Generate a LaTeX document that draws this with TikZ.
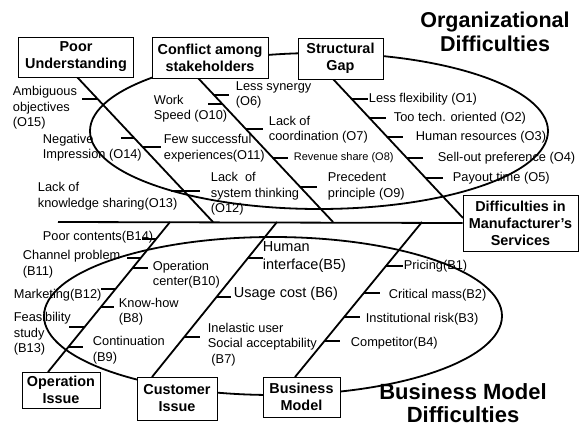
\documentclass[tikz,border=0pt]{standalone}
\usepackage{fontspec}
\setmainfont{Liberation Sans}
\usetikzlibrary{calc}

\begin{document}
\begin{tikzpicture}[x=1pt,y=-1pt,line width=1.8pt]
    \tikzstyle{cause}=[draw=black,line width=0.8pt,fill=white,align=center,inner sep=0pt,font=\bfseries\fontsize{14.4}{17}\selectfont]
    \tikzstyle{item}=[anchor=west,align=left,inner sep=0pt,font=\fontsize{12.8}{15.5}\selectfont]
    \tikzstyle{itembig}=[item,font=\fontsize{14.5}{18}\selectfont]
    \tikzstyle{itemsmall}=[item,font=\fontsize{11}{13}\selectfont]
    \tikzstyle{title}=[align=center,inner sep=0pt,font=\bfseries\fontsize{21.5}{24}\selectfont]
    \useasboundingbox (0,0) rectangle (579,428);

    % groups
    \draw (319,131) ellipse [x radius=229pt, y radius=78pt];
    \draw (273,316) ellipse [x radius=229pt, y radius=79pt];

    \node[title] (t-org) at (495,32) {Organizational\\Difficulties};
    \node[title,font=\bfseries\fontsize{22}{23}\selectfont] (t-bm) at (463,403.5) {Business Model\\Difficulties};

    % spine
    \node[cause,minimum width=115pt,minimum height=56pt] (dm) at (520.5,223) {Difficulties in\\Manufacturer's\\Services};
    \coordinate (spL) at (58,222);
    \draw (spL) -- (dm.west);

    \foreach \n/\x in {pu/213, cs/333, oi/170, ci/277, bm/422}
        \coordinate (sp-\n) at (\x,222);
    \coordinate (pu-b) at (77,77);
    \coordinate (cs-b) at (198,78);
    \coordinate (sg-b) at (333,79);
    \coordinate (sg-e) at (463,218);
    \coordinate (oi-b) at (48,372);
    \coordinate (ci-b) at (152,377);
    \coordinate (bm-b) at (295,377);

    \draw (pu-b) -- (sp-pu);
    \draw (cs-b) -- (sp-cs);
    \draw (sg-b) -- (sg-e);
    \foreach \n in {oi, ci, bm}
        \draw (sp-\n) -- (\n-b);

    % small bones
    \foreach \f/\l in {0.152/-16, 0.421/-13, 0.483/18, 0.786/-13, 0.786/16}
        \draw ($(pu-b)!\f!(sp-pu)$) -- ++(\l,0);
    \foreach \f/\l in {0.118/15, 0.181/-14, 0.354/17, 0.556/15, 0.757/17}
        \draw ($(cs-b)!\f!(sp-cs)$) -- ++(\l,0);
    \foreach \f/\l in {0.144/16, 0.281/16, 0.417/16, 0.568/16, 0.712/17}
        \draw ($(sg-b)!\f!(sg-e)$) -- ++(\l,0);
    \foreach \f/\l in {0.113/-14, 0.24/-14, 0.307/15, 0.447/-14, 0.567/13, 0.7/-16, 0.833/15}
        \draw ($(sp-oi)!\f!(oi-b)$) -- ++(\l,0);
    \foreach \f/\l in {0.232/15, 0.484/14, 0.742/16}
        \draw ($(sp-ci)!\f!(ci-b)$) -- ++(\l,0);
    \foreach \f/\l in {0.284/17, 0.458/16, 0.613/16, 0.768/16}
        \draw ($(sp-bm)!\f!(bm-b)$) -- ++(\l,0);

    % causes
    \node[cause,minimum width=115pt,minimum height=40pt] (pu) at (76,57) {Poor\\Understanding};
    \node[cause,minimum width=116pt,minimum height=41pt] (cs) at (210,57.5) {Conflict among\\stakeholders};
    \node[cause,minimum width=85pt,minimum height=41pt] (sg) at (340.5,58.5) {Structural\\Gap};
    \node[cause,minimum width=78pt,minimum height=36pt] (oi) at (61,390) {Operation\\Issue};
    \node[cause,minimum width=80pt,minimum height=43pt] (ci) at (177,398.5) {Customer\\Issue};
    \node[cause,minimum width=77pt,minimum height=40pt] (bm) at (301.5,397) {Business\\Model};

    % organizational items
    \node[item] (o15) at (12,108) {Ambiguous\\objectives\\(O15)};
    \node[item] (o14) at (42,147.5) {Negative\\Impression (O14)};
    \node[item] (o13) at (37,196) {Lack of\\knowledge sharing(O13)};
    \node[item] (o10) at (153,108.5) {Work\\Speed (O10)};
    \node[item] (o11) at (163,148) {Few successful\\experiences(O11)};
    \node[item] (o12) at (210,194) {Lack\ \ of\\system thinking\\(O12)};
    \node[item] (o6) at (235,95) {Less synergy\\(O6)};
    \node[item] (o7) at (268,129.5) {Lack of\\coordination (O7)};
    \node[itemsmall] (o8) at (293,158) {Revenue share (O8)};
    \node[item] (o9) at (327,186) {Precedent\\principle (O9)};
    \node[item] (o1) at (368,99) {Less flexibility (O1)};
    \node[item] (o2) at (393,118) {Too tech. oriented (O2)};
    \node[item] (o3) at (415,137) {Human resources (O3)};
    \node[item] (o4) at (437,158) {Sell-out preference (O4)};
    \node[item] (o5) at (452,178) {Payout time (O5)};

    % business items
    \node[item] (b14) at (42,237) {Poor contents(B14)};
    \node[item] (b11) at (22,264) {Channel problem\\(B11)};
    \node[item] (b10) at (152,274.5) {Operation\\center(B10)};
    \node[item] (b12) at (13,295) {Marketing(B12)};
    \node[item] (b8) at (118,311.5) {Know-how\\(B8)};
    \node[item] (b13) at (13,334) {Feasibility\\study\\(B13)};
    \node[item] (b9) at (92,350) {Continuation\\(B9)};
    \node[itembig] (b5) at (262,257.5) {Human\\interface(B5)};
    \node[itembig] (b6) at (233,294) {Usage cost (B6)};
    \node[item] (b7) at (207,344.5) {Inelastic user\\Social acceptability\\\ (B7)};
    \node[item] (b1) at (403,266) {Pricing(B1)};
    \node[item] (b2) at (388,295) {Critical mass(B2)};
    \node[item] (b3) at (365,319) {Institutional risk(B3)};
    \node[item] (b4) at (350,343) {Competitor(B4)};
\end{tikzpicture}
\end{document}
